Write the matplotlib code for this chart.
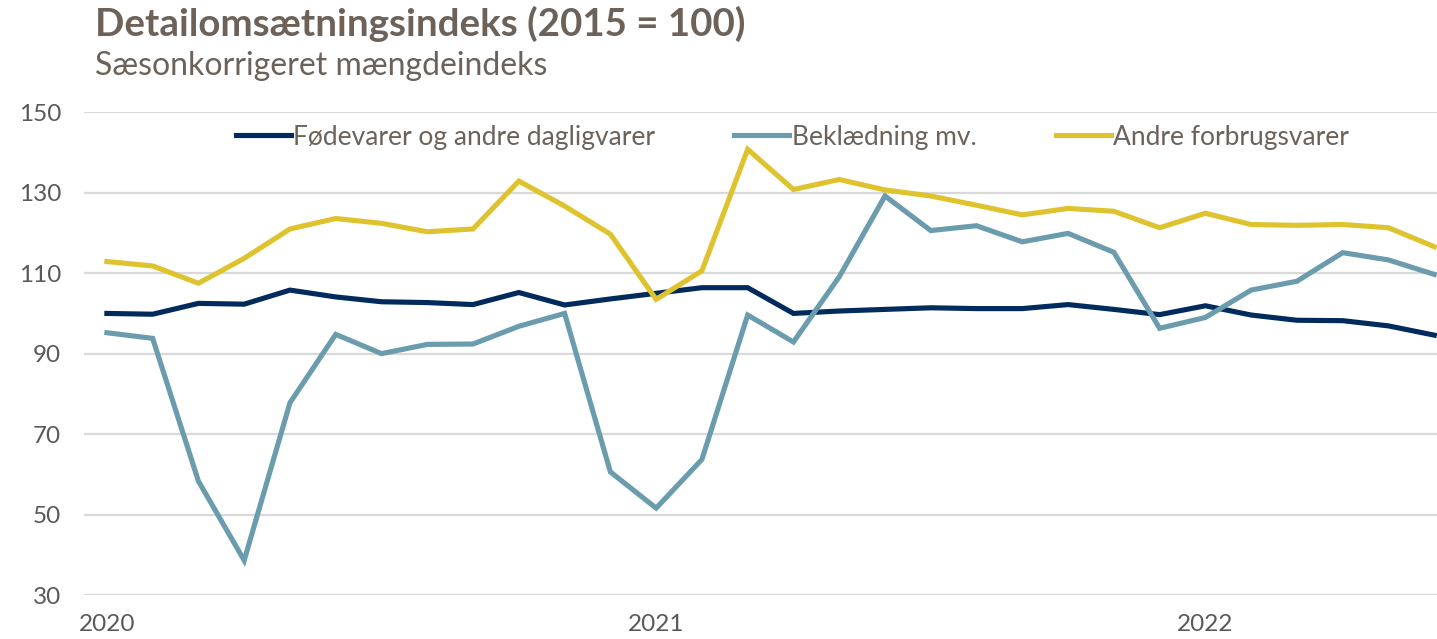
import numpy as np
import matplotlib

matplotlib.use('Agg')
from matplotlib import pyplot as plt

# monthly data, Jan 2020 - Jun 2022
foedevarer = [100.0, 99.8, 102.5, 102.3, 105.8, 104.1, 102.9, 102.7, 102.2, 105.2,
              102.1, 103.6, 105.0, 106.4, 106.4, 100.0, 100.6, 101.0, 101.4, 101.2,
              101.2, 102.2, 101.0, 99.7, 101.9, 99.6, 98.3, 98.2, 96.9, 94.6]
beklaedning = [95.2, 93.8, 58.3, 38.6, 77.8, 94.8, 90.0, 92.3, 92.4, 96.8,
               100.0, 60.6, 51.6, 63.7, 99.6, 92.9, 109.1, 129.2, 120.6, 121.8,
               117.8, 119.9, 115.2, 96.3, 99.0, 105.8, 108.0, 115.1, 113.3, 109.7]
andre = [112.9, 111.8, 107.5, 113.7, 121.0, 123.6, 122.4, 120.3, 121.0, 132.9,
         126.7, 119.7, 103.5, 110.6, 140.8, 130.8, 133.3, 130.7, 129.2, 126.9,
         124.5, 126.1, 125.4, 121.3, 124.9, 122.1, 121.9, 122.1, 121.3, 116.6]
series_names = ['Fødevarer og andre dagligvarer', 'Beklædning mv.', 'Andre forbrugsvarer']
year_labels = ['2020', '2021', '2022']
y_ticks = [30, 50, 70, 90, 110, 130, 150]

colors = ['#002b5c', '#6a9cae', '#dfc32e']
text_col = '#6d6259'
tick_col = '#595959'

plt.rcParams['font.family'] = ['Lato', 'DejaVu Sans']

W, H = 1437, 639
fig = plt.figure(figsize=(W / 100, H / 100), dpi=100)
ax = fig.add_axes([84 / W, 1 - 595 / H, 1 - 84 / W, (595 - 112.3) / H])

x = np.arange(len(foedevarer))
for vals, name, c in zip([foedevarer, beklaedning, andre], series_names, colors):
    ax.plot(x, vals, color=c, lw=3.7, label=name, solid_joinstyle='miter', clip_on=False, zorder=3)

ax.set_xlim(-0.5, 29.06)
ax.set_ylim(30, 150)
ax.set_yticks(y_ticks)
ax.set_xticks([0, 12, 24])
ax.set_xticklabels(year_labels)
ax.grid(axis='y', color='#d9d9d9', lw=1.6)
ax.set_axisbelow(True)
for s in ax.spines.values():
    s.set_visible(False)
ax.tick_params(length=0, labelsize=17.5, colors=tick_col)
ax.tick_params(axis='y', pad=16.5)
ax.tick_params(axis='x', pad=14)
for lab in ax.get_yticklabels() + ax.get_xticklabels():
    lab.set_color(tick_col)

leg = ax.legend(loc='center', bbox_to_anchor=(0.5 + 32 / 1353, 1 - (137 - 112.3) / (595 - 112.3)), ncol=3,
                frameon=False, fontsize=19, handlelength=2.08, handletextpad=0.1,
                columnspacing=3.0, borderaxespad=0)
for t in leg.get_texts():
    t.set_color(text_col)

fig.text(95 / W, 1 - 24 / H, 'Detailomsætningsindeks (2015 = 100)', fontsize=27.7, fontweight='bold',
         color=text_col, va='center', ha='left')
fig.text(95 / W, 1 - 66 / H, 'Sæsonkorrigeret mængdeindeks', fontsize=23, color=text_col,
         va='center', ha='left')

plt.savefig('out.png', dpi=100)
plt.close(fig)
